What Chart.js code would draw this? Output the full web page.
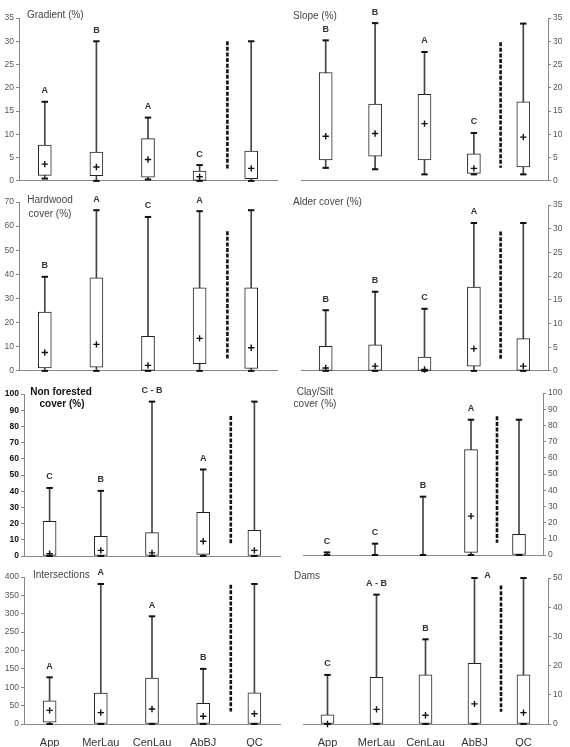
<!DOCTYPE html>
<html><head><meta charset="utf-8">
<script src="https://cdn.jsdelivr.net/npm/chart.js@4.4.1/dist/chart.umd.min.js"></script>
<style>
html,body{margin:0;padding:0;background:#fff;width:570px;height:747px;overflow:hidden;position:relative}
canvas{position:absolute}
</style></head><body>
<script>
const categories = ['App','MerLau','CenLau','AbBJ','QC'];

// Gradient (%)
const gradientTicks = [0,5,10,15,20,25,30,35];
const gradientMin  = [0.5, 0, 0.3, 0, 0];
const gradientQ1   = [1.2, 1.1, 0.8, 0, 0.5];
const gradientQ3   = [7.7, 6.2, 9.1, 2.1, 6.4];
const gradientMax  = [17, 30, 13.6, 3.4, 30];
const gradientMean = [3.6, 3.0, 4.6, 0.9, 2.7];
const gradientLetters = ['A','B','A','C',''];
const gradientDivider = [2.6, 30];

// Slope (%)
const slopeTicks = [0,5,10,15,20,25,30,35];
const slopeMin  = [2.8, 2.5, 1.4, 1.4, 1.4];
const slopeQ1   = [4.5, 5.3, 4.5, 1.6, 3.0];
const slopeQ3   = [23.3, 16.5, 18.6, 5.8, 17.0];
const slopeMax  = [30.2, 33.9, 27.7, 10.3, 33.8];
const slopeMean = [9.6, 10.2, 12.3, 2.7, 9.4];
const slopeLetters = ['B','B','A','C',''];
const slopeDivider = [2.8, 29.8];

// Hardwood cover (%)
const hardwoodTicks = [0,10,20,30,40,50,60,70];
const hardwoodMin  = [0, 0, 0, 0, 0];
const hardwoodQ1   = [1.2, 1.5, 0, 3, 1];
const hardwoodQ3   = [24.4, 38.6, 14.3, 34.4, 34.4];
const hardwoodMax  = [39, 66.6, 63.8, 66.2, 66.6];
const hardwoodMean = [7.6, 11, 2.3, 13.5, 9.6];
const hardwoodLetters = ['B','A','C','A',''];
const hardwoodDivider = [5.1, 57.9];

// Alder cover (%)
const alderTicks = [0,5,10,15,20,25,30,35];
const alderMin  = [0, 0, 0, 0, 0];
const alderQ1   = [0, 0, 0, 1, 0];
const alderQ3   = [5.2, 5.5, 2.9, 17.7, 6.8];
const alderMax  = [12.8, 16.7, 13.1, 31.2, 31.2];
const alderMean = [0.6, 1.0, 0.3, 4.7, 1.0];
const alderLetters = ['B','B','C','A',''];
const alderDivider = [2.4, 29.4];

// Non forested cover (%)
const nonforTicks = [0,10,20,30,40,50,60,70,80,90,100];
const nonforMin  = [0, 0, 0, 0, 0];
const nonforQ1   = [0, 0, 0, 1, 0];
const nonforQ3   = [21.4, 12.2, 14.4, 27, 15.9];
const nonforMax  = [42, 40.2, 95.3, 53.4, 95.3];
const nonforMean = [1.4, 3.5, 1.9, 9.1, 3.5];
const nonforLetters = ['C','B','C - B','A',''];
const nonforDivider = [7.6, 86.4];

// Clay/Silt cover (%)
const clayTicks = [0,10,20,30,40,50,60,70,80,90,100];
const clayMin  = [0, 0, 0, 0, 0];
const clayQ1   = [0, 0, 0, 1.6, 0];
const clayQ3   = [0, 0, 0, 65, 12.8];
const clayMax  = [1.6, 7, 36, 83.5, 83.5];
const clayMean = [null, null, null, 24, null];
const clayLetters = ['C','C','B','A',''];
const clayDivider = [7.6, 85.6];

// Intersections
const interTicks = [0,50,100,150,200,250,300,350,400];
const interMin  = [0, 0, 0, 0, 0];
const interQ1   = [5, 0, 0, 0, 0];
const interQ3   = [63, 84, 125, 56, 85];
const interMax  = [127, 381, 293, 150, 381];
const interMean = [37, 31, 41, 21, 28];
const interLetters = ['A','A','A','B',''];
const interDivider = [34, 379];

// Dams
const damsTicks = [0,10,20,30,40,50];
const damsMin  = [0, 0, 0, 0, 0];
const damsQ1   = [0, 0, 0, 0, 0];
const damsQ3   = [3.1, 16, 16.8, 20.8, 16.8];
const damsMax  = [16.8, 44.3, 29, 50, 50];
const damsMean = [0, 5, 3, 6.9, 3.9];
const damsLetters = ['C','A - B','B','A',''];
const damsDivider = [4.2, 47.4];

const FONT = '"Liberation Sans", Arial, Helvetica, sans-serif';

const panels = [
  {cx:0, cy:0, cw:286, ch:188, l:19, r:277, t:18, b:182, side:'left',
   ticks:gradientTicks, min:gradientMin, q1:gradientQ1, q3:gradientQ3, max:gradientMax, mean:gradientMean, letters:gradientLetters, divider:gradientDivider,
   titles:[{text:'Gradient (%)', x:27, y:15, align:'left'}]},
  {cx:284, cy:0, cw:286, ch:188, l:301, r:548, t:18, b:183, side:'right',
   ticks:slopeTicks, min:slopeMin, q1:slopeQ1, q3:slopeQ3, max:slopeMax, mean:slopeMean, letters:slopeLetters, divider:slopeDivider,
   titles:[{text:'Slope (%)', x:293, y:16, align:'left'}]},
  {cx:0, cy:188, cw:286, ch:190, l:19, r:277, t:202, b:372, side:'left',
   ticks:hardwoodTicks, min:hardwoodMin, q1:hardwoodQ1, q3:hardwoodQ3, max:hardwoodMax, mean:hardwoodMean, letters:hardwoodLetters, divider:hardwoodDivider,
   titles:[{text:'Hardwood', x:50, y:200, align:'center'},{text:'cover (%)', x:50, y:214, align:'center'}]},
  {cx:284, cy:188, cw:286, ch:190, l:301, r:548, t:205, b:372, side:'right',
   ticks:alderTicks, min:alderMin, q1:alderQ1, q3:alderQ3, max:alderMax, mean:alderMean, letters:alderLetters, divider:alderDivider,
   titles:[{text:'Alder cover (%)', x:293, y:202, align:'left'}]},
  {cx:0, cy:378, cw:286, ch:187, l:24, r:280, t:394, b:556, side:'left', bold:true,
   ticks:nonforTicks, min:nonforMin, q1:nonforQ1, q3:nonforQ3, max:nonforMax, mean:nonforMean, letters:nonforLetters, divider:nonforDivider,
   titles:[{text:'Non forested', x:61, y:392, align:'center', bold:true},{text:'cover (%)', x:62, y:404, align:'center', bold:true}]},
  {cx:284, cy:378, cw:286, ch:187, l:303, r:543, t:393, b:555, side:'right',
   ticks:clayTicks, min:clayMin, q1:clayQ1, q3:clayQ3, max:clayMax, mean:clayMean, letters:clayLetters, divider:clayDivider,
   titles:[{text:'Clay/Silt', x:315, y:392, align:'center'},{text:'cover (%)', x:315, y:404, align:'center'}]},
  {cx:0, cy:565, cw:286, ch:182, l:24, r:281, t:577, b:724, side:'left', showX:true,
   ticks:interTicks, min:interMin, q1:interQ1, q3:interQ3, max:interMax, mean:interMean, letters:interLetters, divider:interDivider,
   titles:[{text:'Intersections', x:33, y:575, align:'left'}]},
  {cx:284, cy:565, cw:286, ch:182, l:303, r:548, t:578, b:724, side:'right', showX:true,
   ticks:damsTicks, min:damsMin, q1:damsQ1, q3:damsQ3, max:damsMax, mean:damsMean, letters:damsLetters, divider:damsDivider,
   letterShift:{3:{dx:13, dy:9}},
   titles:[{text:'Dams', x:294, y:576, align:'left'}]}
];

function makePanel(p){
  const cv = document.createElement('canvas');
  cv.width = p.cw; cv.height = p.ch;
  cv.style.left = p.cx + 'px'; cv.style.top = p.cy + 'px';
  cv.style.width = p.cw + 'px'; cv.style.height = p.ch + 'px';
  document.body.appendChild(cv);
  const right = p.side === 'right';
  const axisW = right ? (p.cx + p.cw - p.r) : (p.l - p.cx);
  const padL = right ? (p.l - p.cx) : 0;
  const padR = right ? 0 : (p.cx + p.cw - p.r);
  const padT = p.t - p.cy;
  const xH = p.cy + p.ch - p.b;
  const yMax = p.ticks[p.ticks.length - 1];

  const annot = {
    id: 'annot' ,
    afterDatasetsDraw(chart){
      const ctx = chart.ctx;
      const xs = chart.scales.x, ys = chart.scales.y;
      ctx.save();
      // divider
      const dx = (xs.getPixelForValue(3) + xs.getPixelForValue(4)) / 2 + 2;
      ctx.strokeStyle = '#111';
      ctx.lineWidth = 2.6;
      ctx.setLineDash([4, 1.6]);
      ctx.beginPath();
      ctx.moveTo(dx, ys.getPixelForValue(p.divider[1]));
      ctx.lineTo(dx, ys.getPixelForValue(p.divider[0]));
      ctx.stroke();
      ctx.setLineDash([]);
      // letters
      ctx.fillStyle = '#333';
      ctx.font = 'bold 9px ' + FONT;
      ctx.textAlign = 'center';
      ctx.textBaseline = 'middle';
      p.letters.forEach((t, i) => {
        if (!t) return;
        const sh = (p.letterShift && p.letterShift[i]) || {dx:0, dy:0};
        const x = xs.getPixelForValue(i) + sh.dx;
        const y = ys.getPixelForValue(p.max[i]) - 11 + sh.dy;
        ctx.fillText(t, x, y);
      });
      // titles
      p.titles.forEach(tt => {
        ctx.font = (tt.bold ? 'bold 10px ' : '10px ') + FONT;
        ctx.fillStyle = tt.bold ? '#111' : '#444';
        ctx.textAlign = tt.align;
        ctx.fillText(tt.text, tt.x - p.cx, tt.y - p.cy);
      });
      ctx.restore();
    }
  };

  new Chart(cv, {
    type: 'bar',
    data: {
      labels: categories,
      datasets: [
        {type:'line', data:p.mean, showLine:false, pointStyle:'cross', pointRadius:3.2, pointBorderColor:'#111', pointBackgroundColor:'#111', pointBorderWidth:1.4, clip:false, order:0},
        {type:'line', data:p.max, showLine:false, pointStyle:'line', pointRadius:3.2, pointBorderColor:'#111', pointBorderWidth:2, clip:false, order:1},
        {type:'line', data:p.min, showLine:false, pointStyle:'line', pointRadius:3.2, pointBorderColor:'#111', pointBorderWidth:2, clip:false, order:1},
        {type:'bar', data:p.q1.map((v, i) => [v, p.q3[i]]), backgroundColor:'#fff', borderColor:'#222', borderWidth:1, borderSkipped:false, barThickness:13, grouped:false, order:2},
        {type:'bar', data:p.min.map((v, i) => [v, p.max[i]]), backgroundColor:'#444', borderWidth:0, barThickness:1, grouped:false, order:3}
      ]
    },
    options: {
      responsive:false, animation:false, events:[],
      layout:{padding:{left:padL, right:padR, top:padT, bottom:0}},
      plugins:{legend:{display:false}, tooltip:{enabled:false}, title:{display:false}},
      scales:{
        x:{
          type:'category', offset:true,
          grid:{display:false, drawTicks:false},
          border:{display:true, color:'#888', dash:[2,1]},
          ticks:{display:!!p.showX, font:{size:11, family:FONT}, color:'#333', padding:12, maxRotation:0},
          afterFit:s => { s.height = xH; }
        },
        y:{
          position: right ? 'right' : 'left',
          min:0, max:yMax,
          afterBuildTicks:s => { s.ticks = p.ticks.map(v => ({value:v})); },
          grid:{drawOnChartArea:false, drawTicks:true, tickLength:3, color:'#888'},
          border:{display:true, color:'#888'},
          ticks:{font:{size:8.5, family:FONT, weight:p.bold ? 'bold' : 'normal'}, color:p.bold ? '#111' : '#555', padding:2},
          afterFit:s => { s.width = axisW; }
        }
      }
    },
    plugins:[annot]
  });
}

panels.forEach(makePanel);
</script>
</body></html>
